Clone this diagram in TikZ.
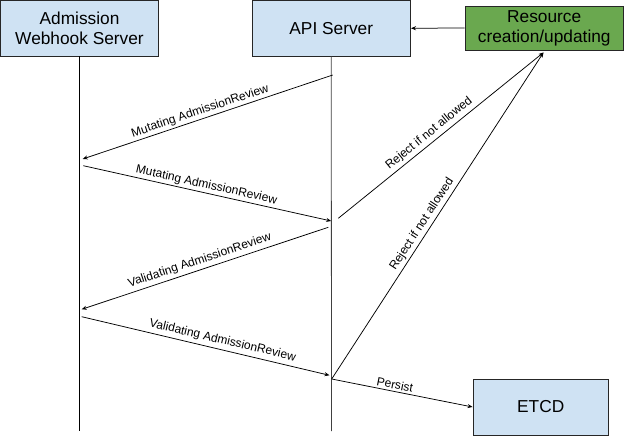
\documentclass[tikz,border=0pt]{standalone}
\usepackage{fontspec}
\setmainfont{Liberation Sans}
\usetikzlibrary{arrows.meta}
\definecolor{boxblue}{HTML}{CFE2F3}
\definecolor{boxgreen}{HTML}{6AA84F}
\tikzset{
  actor/.style={draw=black!85, line width=0.9pt, fill=boxblue, inner sep=0pt, align=center,
    font=\fontsize{17.3}{20}\selectfont},
  greenbox/.style={actor, fill=boxgreen},
  life/.style={draw=black, line width=0.8pt},
  msg/.style={draw=black, line width=0.75pt, -{Stealth[length=5pt,width=4pt]}},
  plain/.style={draw=black, line width=0.75pt},
  lbl/.style={font=\fontsize{12}{14}\selectfont, sloped, above, inner sep=1.8pt},
}
\begin{document}
\begin{tikzpicture}[x=1pt,y=-1pt]
\useasboundingbox (0,0) rectangle (624,436);
% boxes
\node[actor, minimum width=158pt, minimum height=55.5pt] (adm) at (79.5,28.25) {Admission\\Webhook Server};
\node[actor, minimum width=158.5pt, minimum height=55.5pt] (api) at (331.25,28.25) {API Server};
\node[greenbox, minimum width=158.5pt, minimum height=44pt] (res) at (544.25,28) {Resource\\creation/updating};
\node[actor, minimum width=135.5pt, minimum height=56pt] (etcd) at (540.75,407) {ETCD};
% lifeline ends
\coordinate (admEnd) at (79.5,431);
\coordinate (apiEnd) at (331.5,431);
\draw[life] (adm.south) -- (admEnd);
\draw[life, draw=black!75] (api.south) -- (apiEnd);
% message points
\coordinate (m1s) at (332.7,75);
\coordinate (m1e) at (82.7,159);
\coordinate (m2s) at (83.3,165.7);
\coordinate (m2e) at (331.2,221);
\coordinate (v1s) at (328.3,227.3);
\coordinate (v1e) at (81.7,309.3);
\coordinate (v2s) at (81.7,316.7);
\coordinate (v2e) at (329.5,375.3);
\coordinate (r1s) at (338.3,218.3);
\coordinate (rTip) at (543.5,52.5);
\coordinate (pS) at (331.7,379);
% arrows
\draw[msg] (res.west) -- (api.east);
\draw[msg] (m1s) -- node[lbl, pos=0.52] {Mutating AdmissionReview} (m1e);
\draw[msg] (m2s) -- node[lbl, pos=0.49] {Mutating AdmissionReview} (m2e);
\draw[msg] (v1s) -- node[lbl, pos=0.51, inner sep=3pt] {Validating AdmissionReview} (v1e);
\draw[msg] (v2s) -- node[lbl, pos=0.56, inner sep=3pt] {Validating AdmissionReview} (v2e);
\draw[msg] (r1s) -- node[lbl, pos=0.47, inner sep=3pt] {Reject if not allowed} (rTip);
\draw[msg] (pS) -- node[lbl, pos=0.46, inner sep=2.5pt] {Reject if not allowed} (rTip);
\draw[msg] (pS) -- node[lbl, pos=0.44, inner sep=2pt] {Persist} (etcd.west);
\end{tikzpicture}
\end{document}
